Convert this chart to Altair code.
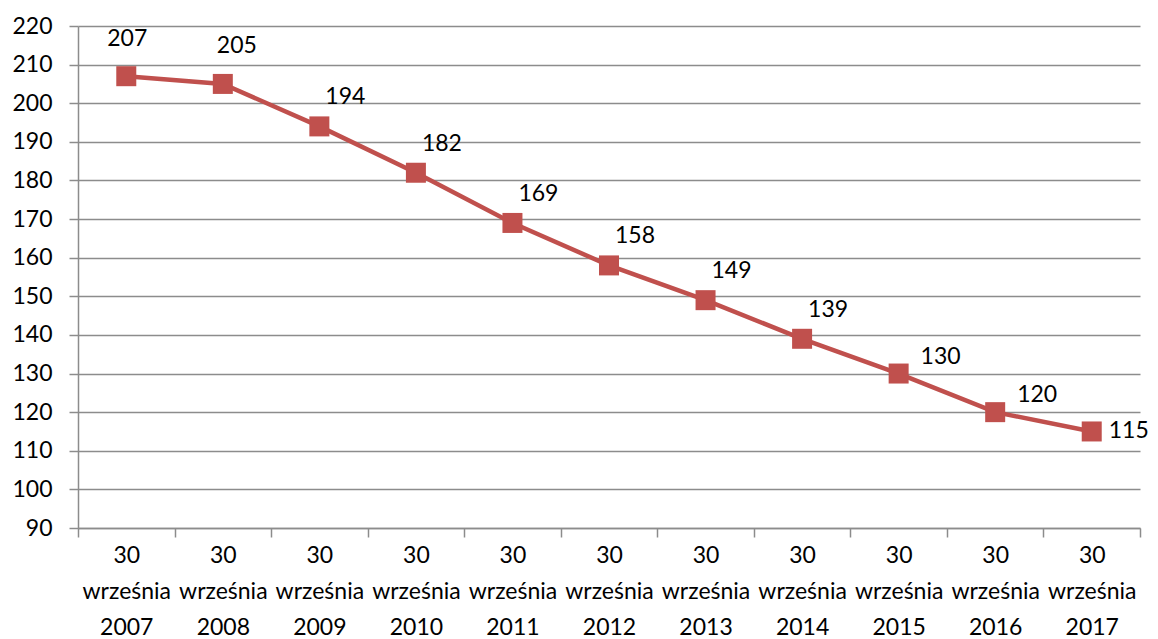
import altair as alt
import pandas as pd

dates = ["30 września 2007", "30 września 2008", "30 września 2009", "30 września 2010",
         "30 września 2011", "30 września 2012", "30 września 2013", "30 września 2014",
         "30 września 2015", "30 września 2016", "30 września 2017"]
values = [207, 205, 194, 182, 169, 158, 149, 139, 130, 120, 115]
y_ticks = [90, 100, 110, 120, 130, 140, 150, 160, 170, 180, 190, 200, 210, 220]

df = pd.DataFrame({"date": dates, "value": values, "idx": list(range(len(dates)))})

FONT = "Lato"
FS = 23
RED = "#C0504D"
GRAY = "#8c8c8c"

x = alt.X("date:N", sort=dates,
          scale=alt.Scale(paddingInner=0, paddingOuter=0),
          axis=alt.Axis(title=None, labelAngle=0, labelExpr="split(datum.label, ' ')",
                        labelLineHeight=36, labelFontSize=FS, labelFont=FONT, labelColor="black",
                        labelPadding=7, tickBand="extent", tickSize=9, tickColor=GRAY,
                        tickWidth=1.5, domainColor=GRAY, domainWidth=1.5, grid=False,
                        labelBaseline="top", labelFlush=False, labelOverlap=False))
y = alt.Y("value:Q", scale=alt.Scale(domain=[90, 220], nice=False, zero=False),
          axis=alt.Axis(title=None, values=y_ticks, labelFontSize=FS, labelFont=FONT,
                        labelColor="black", labelPadding=17, tickSize=9, tickColor=GRAY,
                        tickWidth=1.5, domainColor=GRAY, domainWidth=1.5,
                        grid=True, gridColor=GRAY, gridWidth=1.5, labelFlush=False,
                        labelOverlap=False, labelAlign="right", labelBound=False))

base = alt.Chart(df)
line = base.mark_line(color=RED, strokeWidth=4.5).encode(x=x, y=y)
pts = base.mark_point(shape="square", filled=True, color=RED, size=400, opacity=1).encode(x=x, y=y)

def labels(cond, dx, dy, align="center"):
    return base.transform_filter(cond).mark_text(
        font=FONT, fontSize=FS, color="black", dx=dx, dy=dy, align=align, baseline="middle"
    ).encode(x=x, y=y, text="value:Q")

t0 = labels("datum.idx == 0", 1, -37)
t1 = labels("datum.idx == 1", 14, -38)
t2 = labels("datum.idx >= 2 && datum.idx <= 7", 26, -29)
t3 = labels("datum.idx >= 8 && datum.idx <= 9", 42, -17)
t4 = labels("datum.idx == 10", 17, 0, "left")

chart = alt.layer(line, pts, t0, t1, t2, t3, t4).properties(
    width=1062, height=502,
    autosize=alt.AutoSizeParams(type="none"),
    padding={"left": 70, "top": 18, "right": 10, "bottom": 111},
).configure_view(stroke=None)

chart.save("out.html", embed_options={"renderer": "svg", "actions": False})
